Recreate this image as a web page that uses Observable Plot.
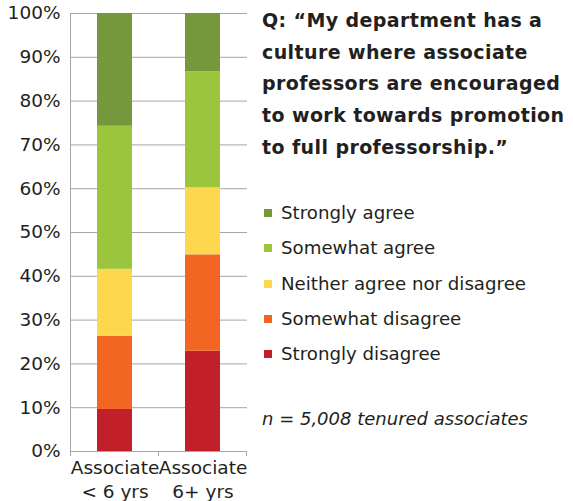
<!DOCTYPE html>
<html>
<head>
<meta charset="utf-8">
<script src="https://cdn.jsdelivr.net/npm/d3@7"></script>
<script src="https://cdn.jsdelivr.net/npm/@observablehq/plot@0.6"></script>
<style>
  html, body { margin: 0; padding: 0; background: #fff; }
  #wrap { position: relative; width: 573px; height: 501px; font-family: "DejaVu Sans", sans-serif; color: #231f20; }
  #chart { position: absolute; left: 0; top: 0; }
  #title { position: absolute; left: 262px; top: 5px; width: 311px; font-weight: bold; font-size: 19px; letter-spacing: 0.4px; line-height: 31.7px; white-space: pre; }
  #legend { position: absolute; left: 264px; top: 195px; font-size: 18.2px; }
  .li { height: 35.3px; display: flex; align-items: center; position: relative; white-space: pre; }
  .sw { width: 8px; height: 8px; margin-right: 9px; margin-top: 1px; flex: none; }
  #note { position: absolute; left: 262px; top: 408px; font-size: 18px; font-style: italic; white-space: pre; }
</style>
</head>
<body>
<div id="wrap">
  <div id="chart"></div>
  <div id="title"></div>
  <div id="legend"></div>
  <div id="note"></div>
</div>
<script>
const categories = ["Associate\n< 6 yrs", "Associate\n6+ yrs"];
const responses = ["Strongly disagree", "Somewhat disagree", "Neither agree nor disagree", "Somewhat agree", "Strongly agree"];
const colors = ["#c1202a", "#f26522", "#fdd84f", "#9bc53d", "#76983c"];
// share (%) per response, order as in `responses`
const under6 = [9.6, 16.7, 15.3, 32.65, 25.75];
const over6 = [22.9, 22.0, 15.3, 26.5, 13.3];
const yTicks = [0, 0.1, 0.2, 0.3, 0.4, 0.5, 0.6, 0.7, 0.8, 0.9, 1.0];
const titleLines = ["Q: \u201cMy department has a", "culture where associate", "professors are encouraged", "to work towards promotion", "to full professorship.\u201d"];
const noteText = "n = 5,008 tenured associates";

const series = [under6, over6];
const data = [];
categories.forEach((c, i) => {
  responses.forEach((r, j) => {
    data.push({ category: c, response: r, value: series[i][j] / 100, order: j });
  });
});

const gray = "#a6a6a6";
const NS = "http://www.w3.org/2000/svg";

function bandInfo(x) {
  const bw = typeof x.bandwidth === "function" ? x.bandwidth() : x.bandwidth;
  const dom = x.domain();
  const step = dom.length > 1 ? x(dom[1]) - x(dom[0]) : bw;
  return { bw, dom, gap: step - bw };
}

// category axis: vertical axis line and boundary ticks between bands
function categoryFrame(index, scales) {
  const x = scales.x;
  const { bw, dom, gap } = bandInfo(x);
  const y0 = scales.y(0), y1 = scales.y(1);
  const g = document.createElementNS(NS, "g");
  const xs = dom.map(d => x(d) - gap / 2);
  xs.push(x(dom[dom.length - 1]) + bw + gap / 2);
  xs.forEach(px => {
    const l = document.createElementNS(NS, "line");
    l.setAttribute("x1", px); l.setAttribute("x2", px);
    l.setAttribute("y1", y0); l.setAttribute("y2", y0 + 5);
    l.setAttribute("stroke", gray);
    g.appendChild(l);
  });
  const v = document.createElementNS(NS, "line");
  v.setAttribute("x1", xs[0]); v.setAttribute("x2", xs[0]);
  v.setAttribute("y1", y0); v.setAttribute("y2", y1);
  v.setAttribute("stroke", gray);
  g.appendChild(v);
  return g;
}

const chart = Plot.plot({
  width: 573,
  height: 501,
  marginLeft: 71,
  marginRight: 326,
  marginTop: 13,
  marginBottom: 50,
  style: { fontFamily: "'DejaVu Sans', sans-serif", fontSize: "18px", color: "#231f20", background: "#fff" },
  x: { domain: categories, paddingInner: 0.6, paddingOuter: 0.3, label: null },
  y: { domain: [0, 1], label: null },
  color: { domain: responses, range: colors },
  marks: [
    Plot.ruleY(yTicks, { stroke: gray, strokeWidth: 1, strokeOpacity: 1 }),
    Plot.barY(data, Plot.stackY({ order: "order" }, { x: "category", y: "value", fill: "response" })),
    Plot.axisY({ ticks: yTicks, tickFormat: d3.format(".0%"), tickSize: 0, tickPadding: 11, fontSize: 18.5, label: null }),
    Plot.axisX({ tickSize: 0, tickPadding: 5, fontSize: 18.5, lineHeight: 1.3, label: null }),
    Plot.ruleY([0], { stroke: gray, strokeOpacity: 1 }),
    categoryFrame
  ]
});
document.getElementById("chart").appendChild(chart);

document.getElementById("title").textContent = titleLines.join("\n");
document.getElementById("note").textContent = noteText;
const legend = document.getElementById("legend");
responses.slice().reverse().forEach(r => {
  const i = responses.indexOf(r);
  const row = document.createElement("div");
  row.className = "li";
  const sw = document.createElement("div");
  sw.className = "sw";
  sw.style.background = colors[i];
  const t = document.createElement("span");
  t.textContent = r;
  row.appendChild(sw); row.appendChild(t);
  legend.appendChild(row);
});
</script>
</body>
</html>
